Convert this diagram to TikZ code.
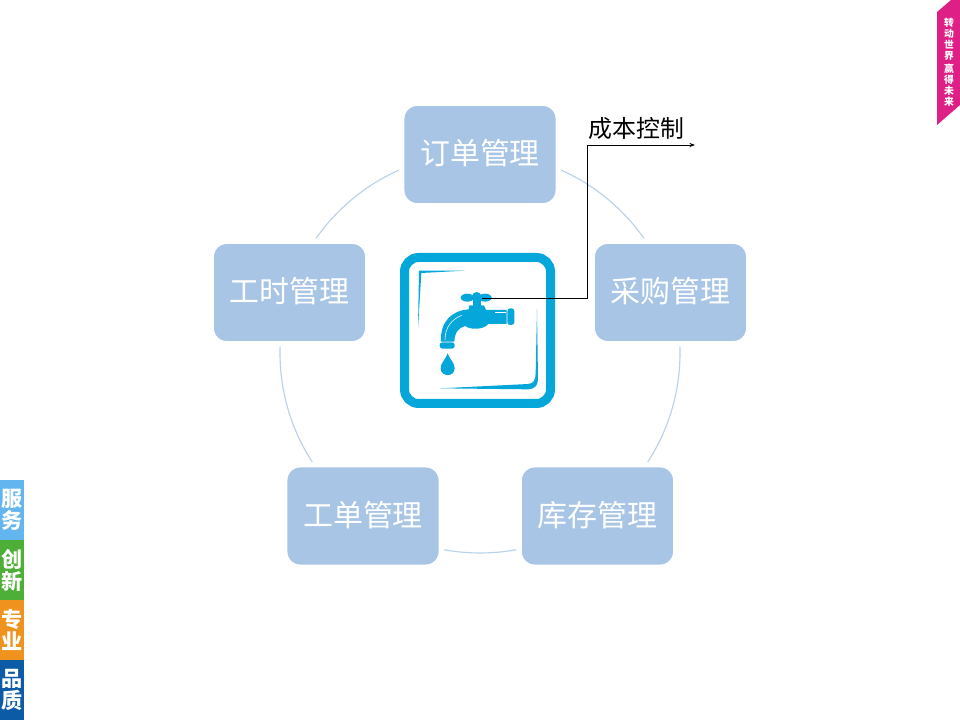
\documentclass[tikz,border=0pt]{standalone}
\usepackage{fontspec}
\setmainfont{Noto Sans CJK SC}
\usepackage{tikz}
\usetikzlibrary{arrows.meta}
\definecolor{boxblue}{HTML}{A9C5E5}
\definecolor{ringblue}{HTML}{B9D1E9}
\definecolor{tapblue}{HTML}{05A6D9}
\definecolor{sideblue}{HTML}{62B5EE}
\definecolor{sidegreen}{HTML}{4DAE38}
\definecolor{sideorange}{HTML}{F0931E}
\definecolor{sidenavy}{HTML}{0B5BA6}
\definecolor{tagpink}{HTML}{DE1F85}
\tikzset{
  mgmtbox/.style={draw=white,line width=4pt,fill=boxblue,rounded corners=11pt,minimum width=111.5pt,minimum height=73pt,text=white,font=\fontsize{21.3}{21.3}\selectfont,inner sep=0pt,text height=18pt,text depth=3.6pt},
  sidetab/.style={minimum width=17pt,minimum height=42.5pt,inner sep=0pt,text=white,align=center,font=\fontsize{15}{15.5}\selectfont\bfseries},
  tagtext/.style={text=white,align=center,inner sep=0pt,font=\fontsize{7}{7.8}\selectfont\bfseries}
}
\begin{document}
\begin{tikzpicture}[x=0.025cm,y=-0.025cm]
    \useasboundingbox (0,0) rectangle (960,720);
    \draw[ringblue,line width=0.8pt] (480,353) circle (200);
    \node[mgmtbox] (order) at (480,154.5) {订单管理};
    \node[mgmtbox] (purchase) at (670.5,292.5) {采购管理};
    \node[mgmtbox] (stock) at (597.5,516) {库存管理};
    \node[mgmtbox] (workorder) at (363,516) {工单管理};
    \node[mgmtbox] (hours) at (289.5,292.5) {工时管理};
    \draw[tapblue,line width=6.4pt,rounded corners=10pt] (404.5,257.5) rectangle (550.5,403.5);
    \begin{scope}[shift={(390,240)},scale=1/3]
        \fill[tapblue] (84,265) -- (87,92) -- (225,92) -- (94,99) -- cycle;
        \fill[tapblue] (150,445) -- (415,432) .. controls (432,430) and (436,420) .. (437,400) -- (441,208) -- (444,420) .. controls (443,438) and (432,447) .. (415,448) -- cycle;
        \fill[tapblue] (232,173) ellipse (20 and 12);
        \fill[tapblue] (285,173) ellipse (20 and 12);
        \fill[tapblue] (260,170) circle (14);
        \fill[tapblue] (248,180) rectangle (272,198);
        \fill[tapblue] (238,196) -- (282,196) -- (288,210) -- (350,210) -- (350,252) -- (295,252) .. controls (280,270) and (240,270) .. (226,258) .. controls (208,262) and (194,276) .. (193,305) -- (153,305) .. controls (150,245) and (185,212) .. (236,208) -- cycle;
        \fill[tapblue,rounded corners=2pt] (352,205) rectangle (373,255);
        \fill[tapblue,rounded corners=2pt] (149,307) rectangle (194,326);
        \fill[tapblue] (173,340) .. controls (180,360) and (194,368) .. (194,385) .. controls (194,412) and (152,412) .. (152,385) .. controls (152,368) and (166,360) .. (173,340) -- cycle;
        \draw[white,line width=0.4pt] (165,300) .. controls (165,262) and (185,238) .. (215,226);
        \draw[white,line width=0.4pt] (314,216) -- (347,216);
    \end{scope}
    \coordinate (handle) at (482,298);
    \coordinate (costend) at (695,145);
    \draw[-{Stealth[length=4pt,width=3pt]},line width=0.6pt] (handle) -- (587,298) -- (587,145) -- (costend);
    \node[inner sep=0pt,font=\fontsize{17}{17}\selectfont] (cost) at (636.5,128) {成本控制};
    \node[sidetab,fill=sideblue] (service) at (12,510) {服\\务};
    \node[sidetab,fill=sidegreen] (create) at (12,570) {创\\新};
    \node[sidetab,fill=sideorange] (expert) at (12,630) {专\\业};
    \node[sidetab,fill=sidenavy] (quality) at (12,690) {品\\质};
    \fill[tagpink] (937,12) -- (951,0) -- (960,0) -- (960,105) -- (937,125) -- cycle;
    \node[tagtext] (slogan) at (949,62) {转\\动\\世\\界\\[1.4pt]赢\\得\\未\\来};
\end{tikzpicture}
\end{document}
